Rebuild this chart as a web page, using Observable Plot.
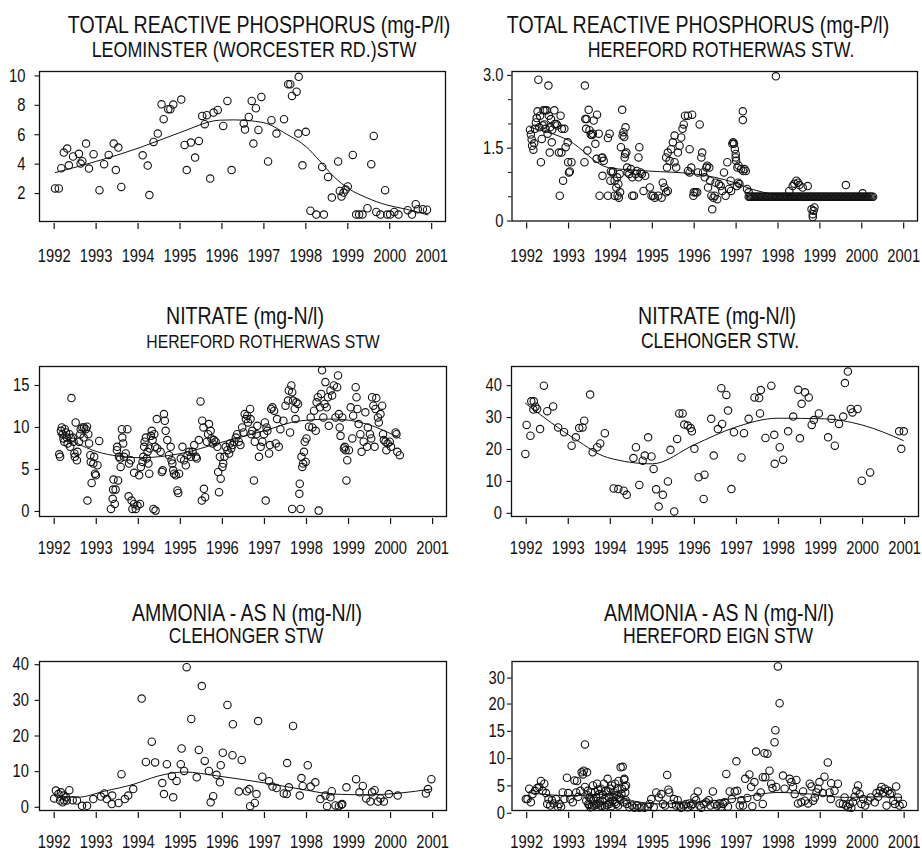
<!DOCTYPE html>
<html><head><meta charset="utf-8">
<script src="https://cdn.jsdelivr.net/npm/d3@7"></script>
<script src="https://cdn.jsdelivr.net/npm/@observablehq/plot@0.6"></script>
<style>
html,body{margin:0;padding:0;background:#fff;}
#chart{position:relative;width:922px;height:852px;overflow:hidden;background:#fff;
  font-family:"Liberation Sans",Arial,sans-serif;color:#111;}
.t{position:absolute;transform:translate(-50%,-50%) scaleX(0.82);white-space:nowrap;line-height:1;}
.p{position:absolute;}
</style></head><body><div id="chart"></div>
<script>
// ---------- tick labels ----------
const yearTicks = [1992,1993,1994,1995,1996,1997,1998,1999,2000,2001];

// ---------- Panel 1: Total reactive phosphorus, Leominster (Worcester Rd.) STW ----------
const leominsterTRP = [[1992.02,2.35],[1992.11,2.35],[1992.17,3.72],[1992.23,4.79],[1992.31,5.06],[1992.35,3.92],[1992.45,4.52],[1992.59,4.70],[1992.63,4.04],[1992.67,4.20],[1992.76,5.40],[1992.83,3.70],[1992.94,4.68],[1993.08,2.23],[1993.19,4.00],[1993.30,4.63],[1993.42,5.40],[1993.47,3.60],[1993.53,5.13],[1993.60,2.45],[1994.11,4.60],[1994.23,3.90],[1994.27,1.90],[1994.37,5.51],[1994.47,6.08],[1994.56,8.07],[1994.61,7.06],[1994.72,7.74],[1994.77,7.74],[1994.84,8.05],[1995.03,8.39],[1995.11,5.31],[1995.16,3.60],[1995.26,5.47],[1995.36,4.45],[1995.45,5.58],[1995.53,7.28],[1995.59,6.72],[1995.64,7.33],[1995.72,3.02],[1995.80,7.51],[1995.90,7.69],[1996.03,6.60],[1996.13,8.30],[1996.23,3.60],[1996.52,6.76],[1996.55,6.35],[1996.64,7.21],[1996.71,8.30],[1996.75,5.40],[1996.81,7.80],[1996.87,6.33],[1996.94,8.57],[1997.10,4.18],[1997.18,6.99],[1997.30,6.08],[1997.48,7.06],[1997.58,9.44],[1997.63,9.44],[1997.67,8.64],[1997.78,8.93],[1997.83,9.94],[1997.82,6.08],[1997.92,3.92],[1998.00,6.20],[1998.11,0.83],[1998.25,0.57],[1998.43,0.57],[1998.39,3.81],[1998.53,3.13],[1998.62,1.73],[1998.77,4.18],[1998.81,2.18],[1998.85,1.80],[1998.90,2.07],[1998.95,2.27],[1999.00,2.48],[1999.12,4.63],[1999.20,0.57],[1999.27,0.57],[1999.35,0.57],[1999.47,1.00],[1999.56,4.00],[1999.62,5.92],[1999.68,0.75],[1999.78,0.57],[1999.89,2.23],[1999.94,0.57],[2000.01,0.57],[2000.11,0.75],[2000.21,0.57],[2000.43,0.87],[2000.53,0.57],[2000.62,1.28],[2000.67,0.94],[2000.79,0.94],[2000.89,0.90]];
const leominsterTRPTrend = [[1992.03,3.43],[1993.10,4.27],[1994.05,5.13],[1995.00,6.15],[1995.95,6.99],[1996.27,7.01],[1996.98,6.83],[1997.54,6.04],[1998.01,5.18],[1998.33,4.22],[1998.65,3.20],[1999.04,2.30],[1999.44,1.73],[1999.92,1.23],[2000.39,0.94],[2000.91,0.55]];

// ---------- Panel 2: Total reactive phosphorus, Hereford Rotherwas STW ----------
const rotherwasTRP = [[1992.08,1.88],[1992.10,1.78],[1992.12,1.68],[1992.13,1.55],[1992.16,1.47],[1992.18,1.60],[1992.20,1.90],[1992.22,2.03],[1992.24,2.12],[1992.26,2.26],[1992.28,2.91],[1992.30,1.93],[1992.32,2.17],[1992.34,1.21],[1992.36,1.69],[1992.38,1.97],[1992.40,2.28],[1992.42,1.99],[1992.44,2.28],[1992.45,1.90],[1992.48,2.28],[1992.50,1.80],[1992.52,2.79],[1992.53,2.17],[1992.55,1.41],[1992.56,1.93],[1992.58,2.10],[1992.60,1.62],[1992.61,1.88],[1992.66,2.28],[1992.67,2.00],[1992.71,2.00],[1992.73,1.97],[1992.77,1.41],[1992.79,0.52],[1992.81,2.17],[1992.83,1.41],[1992.84,1.90],[1992.87,0.83],[1992.90,1.90],[1992.93,1.52],[1992.98,1.62],[1992.99,1.21],[1993.01,1.00],[1993.03,1.02],[1993.07,1.21],
[1993.38,1.21],[1993.39,2.79],[1993.40,2.10],[1993.42,1.90],[1993.43,2.10],[1993.45,1.45],[1993.48,2.29],[1993.50,1.87],[1993.53,1.78],[1993.56,1.77],[1993.58,1.80],[1993.60,2.07],[1993.64,1.59],[1993.67,1.28],[1993.68,2.19],[1993.72,1.80],[1993.74,0.52],[1993.79,1.30],[1993.81,1.31],[1993.81,0.93],[1993.84,1.24],[1993.94,1.71],[1993.94,0.52],[1993.98,1.80],[1994.00,0.83],[1994.01,1.02],[1994.05,1.00],
[1994.06,1.02],[1994.10,0.83],[1994.10,0.52],[1994.14,0.69],[1994.16,0.90],[1994.17,0.52],[1994.19,0.76],[1994.20,0.48],[1994.22,0.97],[1994.23,0.59],[1994.25,1.52],[1994.28,2.29],[1994.29,1.76],[1994.31,1.83],[1994.33,1.73],[1994.34,1.31],[1994.35,1.38],[1994.36,1.93],[1994.38,1.41],[1994.40,1.10],[1994.41,1.00],[1994.45,0.97],[1994.49,1.07],[1994.52,0.90],[1994.52,0.52],[1994.56,0.52],[1994.60,0.97],[1994.63,1.03],[1994.67,1.31],[1994.69,1.52],[1994.67,0.90],[1994.72,1.00],[1994.75,0.97],[1994.79,0.62],[1994.83,0.93],
[1994.94,0.69],[1994.98,0.52],[1995.02,0.52],[1995.06,0.48],[1995.14,0.52],[1995.22,0.48],[1995.25,0.79],[1995.29,0.69],[1995.33,0.59],[1995.37,0.62],[1995.35,1.10],[1995.33,1.31],[1995.37,1.41],[1995.41,1.24],[1995.45,1.48],[1995.49,1.62],[1995.53,1.76],[1995.53,1.21],[1995.57,1.10],[1995.61,1.41],[1995.65,1.55],[1995.69,1.72],[1995.72,1.90],[1995.75,1.99],[1995.78,2.17],[1995.85,1.03],[1995.85,2.17],[1995.89,1.48],[1995.89,1.00],[1995.93,1.10],[1995.95,2.19],[1995.98,0.52],[1995.99,0.59],[1996.03,0.59],[1996.07,0.59],[1996.09,1.00],
[1996.13,1.99],[1996.17,1.31],[1996.19,1.41],[1996.21,1.00],[1996.25,0.90],[1996.29,1.10],[1996.31,1.14],[1996.33,0.69],[1996.36,1.10],[1996.38,0.83],[1996.41,0.52],[1996.43,0.24],[1996.46,0.48],[1996.49,0.52],[1996.51,0.79],[1996.55,0.45],[1996.59,0.76],[1996.63,0.72],[1996.67,0.62],[1996.71,1.00],[1996.75,0.52],[1996.79,1.21],[1996.83,0.66],[1996.87,0.83],[1996.88,0.62],[1996.91,1.59],[1996.93,1.62],[1996.95,1.59],[1996.97,1.48],[1996.99,1.31],[1996.99,1.38],[1997.00,1.24],[1997.02,0.72],[1997.03,1.10],[1997.05,0.79],[1997.06,1.14],[1997.08,0.76],[1997.12,1.07],[1997.16,2.08],[1997.16,2.26],[1997.17,1.03],[1997.20,1.07],[1997.23,1.03],[1997.26,0.66],[1997.30,0.59],
[1997.95,2.98],[1998.27,0.62],[1998.35,0.72],[1998.39,0.77],[1998.44,0.83],[1998.48,0.79],[1998.51,0.74],[1998.59,0.69],[1998.71,0.72],[1998.80,0.24],[1998.83,0.14],[1998.85,0.21],[1998.83,0.08],[1998.87,0.28],[1999.62,0.74],[2000.02,0.57]];
// samples reported at the 0.5 mg-P/l floor (the dense row from 1997 on)
const rotherwasTRPFloor = 0.5;
const rotherwasTRPFloorDates = [1997.30,1997.33,1997.36,1997.39,1997.42,1997.45,1997.48,1997.51,1997.54,1997.57,1997.60,1997.63,1997.66,1997.69,1997.72,1997.75,1997.78,1997.81,1997.84,1997.87,1997.90,1997.93,1997.96,1997.99,1998.02,1998.05,1998.08,1998.11,1998.14,1998.17,1998.20,1998.23,1998.26,1998.29,1998.32,1998.35,1998.38,1998.41,1998.44,1998.47,1998.50,1998.53,1998.56,1998.59,1998.62,1998.65,1998.68,1998.71,1998.74,1998.77,1998.80,1998.83,1998.86,1998.89,1998.92,1998.95,1998.98,1999.01,1999.04,1999.07,1999.10,1999.13,1999.16,1999.19,1999.22,1999.25,1999.28,1999.31,1999.34,1999.37,1999.40,1999.43,1999.46,1999.49,1999.52,1999.55,1999.58,1999.61,1999.64,1999.67,1999.70,1999.73,1999.76,1999.79,1999.82,1999.85,1999.88,1999.91,1999.94,1999.97,2000.00,2000.03,2000.06,2000.09,2000.12,2000.15,2000.18,2000.21,2000.24,2000.27];
const rotherwasTRPTrend = [[1992.08,1.93],[1993.00,1.66],[1993.95,1.10],[1994.90,1.03],[1996.00,0.97],[1996.96,0.79],[1997.36,0.66],[1997.91,0.55],[1998.39,0.52],[2000.23,0.52]];

// ---------- Panel 3: Nitrate, Hereford Rotherwas STW ----------
const rotherwasNitrate = [[1992.12,6.8],[1992.14,6.5],[1992.16,9.6],[1992.18,10.0],[1992.20,9.2],[1992.22,8.7],[1992.24,8.3],[1992.25,9.8],[1992.28,9.4],[1992.30,8.8],[1992.32,8.1],[1992.36,9.2],[1992.38,7.7],[1992.40,8.7],[1992.41,13.5],[1992.44,8.8],[1992.46,8.3],[1992.48,6.9],[1992.49,6.5],[1992.51,10.6],[1992.54,6.1],[1992.55,7.1],[1992.59,8.3],[1992.62,9.2],[1992.63,9.8],[1992.67,10.0],[1992.70,8.8],[1992.71,10.0],[1992.75,9.8],[1992.78,10.1],[1992.79,1.3],[1992.81,9.2],[1992.83,8.1],[1992.86,6.7],[1992.87,5.9],[1992.89,3.4],[1992.93,5.7],[1992.95,6.5],[1992.97,4.5],[1992.99,4.3],[1993.03,5.5],[1993.07,8.4],
[1993.35,0.3],[1993.39,1.5],[1993.40,2.6],[1993.41,3.8],[1993.44,0.9],[1993.46,2.6],[1993.49,7.3],[1993.50,7.7],[1993.52,3.7],[1993.54,6.5],[1993.57,6.3],[1993.58,5.3],[1993.61,9.8],[1993.62,8.8],[1993.64,8.1],[1993.66,6.5],[1993.70,6.9],[1993.74,9.8],[1993.77,1.8],[1993.78,5.7],[1993.82,6.1],[1993.84,1.3],[1993.86,0.3],[1993.90,0.9],[1993.90,4.6],[1993.94,0.3],[1993.98,0.7],[1994.02,4.3],[1994.04,0.9],
[1994.06,5.3],[1994.10,5.9],[1994.12,6.5],[1994.14,7.7],[1994.15,8.3],[1994.18,8.8],[1994.20,6.3],[1994.22,7.1],[1994.24,5.7],[1994.26,4.5],[1994.27,7.5],[1994.30,9.0],[1994.32,9.6],[1994.34,8.5],[1994.36,0.3],[1994.38,9.2],[1994.40,7.7],[1994.41,0.1],[1994.44,11.0],[1994.45,7.5],[1994.53,7.1],[1994.56,4.7],[1994.58,4.9],[1994.61,11.6],[1994.63,10.8],[1994.65,9.6],[1994.69,8.5],[1994.73,6.7],[1994.77,7.7],[1994.79,6.1],[1994.81,5.7],[1994.83,4.9],[1994.85,4.5],
[1994.89,4.3],[1994.93,2.5],[1994.95,2.2],[1994.97,4.5],[1995.01,6.3],[1995.05,7.7],[1995.09,6.1],[1995.13,5.5],[1995.17,6.7],[1995.21,7.1],[1995.25,6.5],[1995.29,7.1],[1995.33,7.9],[1995.37,6.5],[1995.39,6.3],[1995.44,8.5],[1995.48,13.1],[1995.51,1.3],[1995.52,10.8],[1995.55,10.0],[1995.56,2.7],[1995.59,1.7],[1995.63,8.3],[1995.66,9.2],[1995.68,10.4],[1995.72,9.6],[1995.74,8.7],[1995.77,8.1],[1995.80,8.5],[1995.84,8.3],[1995.88,7.7],
[1995.90,4.7],[1995.92,2.3],[1995.94,6.5],[1995.96,3.9],[1996.00,5.3],[1996.02,5.7],[1996.05,6.5],[1996.08,7.7],[1996.12,7.3],[1996.16,6.9],[1996.18,8.1],[1996.21,7.5],[1996.24,7.9],[1996.28,8.3],[1996.32,8.8],[1996.35,9.2],[1996.39,8.3],[1996.43,7.9],[1996.47,10.0],[1996.50,9.4],[1996.53,11.6],[1996.56,11.0],[1996.59,11.4],[1996.61,10.6],[1996.66,12.2],[1996.67,11.0],[1996.69,9.2],[1996.71,9.6],[1996.75,3.7],[1996.77,8.3],[1996.81,9.2],[1996.83,10.2],[1996.87,6.5],[1996.91,7.7],[1996.95,8.3],
[1996.99,9.2],[1997.01,10.6],[1997.03,1.3],[1997.05,10.0],[1997.07,9.6],[1997.11,6.9],[1997.13,7.9],[1997.16,12.2],[1997.19,12.4],[1997.23,12.0],[1997.27,8.1],[1997.30,11.0],[1997.34,7.7],[1997.38,9.8],[1997.45,10.8],[1997.50,12.6],[1997.56,13.2],[1997.58,14.4],[1997.61,9.4],[1997.64,15.0],[1997.66,14.2],[1997.66,0.3],[1997.68,13.2],[1997.72,12.2],[1997.74,11.0],[1997.76,13.0],[1997.80,12.8],[1997.83,2.1],[1997.84,3.3],[1997.86,0.3],[1997.88,6.5],[1997.90,5.3],[1997.92,5.7],[1997.94,7.1],[1997.96,8.3],[1997.98,5.9],[1998.00,8.7],
[1998.06,10.1],[1998.10,11.2],[1998.14,10.0],[1998.18,12.0],[1998.22,9.6],[1998.24,13.0],[1998.27,13.6],[1998.29,0.1],[1998.32,12.4],[1998.35,14.0],[1998.37,16.8],[1998.40,11.2],[1998.43,12.8],[1998.45,15.4],[1998.48,12.4],[1998.51,13.6],[1998.53,10.2],[1998.57,14.4],[1998.61,13.8],[1998.65,15.0],[1998.69,11.2],[1998.73,14.8],[1998.75,16.2],[1998.77,11.6],[1998.79,10.0],[1998.81,9.0],[1998.85,11.2],
[1998.89,7.5],[1998.91,7.7],[1998.93,7.3],[1998.95,3.7],[1998.97,6.1],[1999.01,7.3],[1999.05,12.4],[1999.09,8.7],[1999.11,11.4],[1999.17,14.8],[1999.19,13.6],[1999.21,12.2],[1999.24,10.4],[1999.28,9.2],[1999.31,7.1],[1999.36,8.3],[1999.40,11.8],[1999.44,7.7],[1999.46,10.0],[1999.51,9.2],[1999.54,8.7],[1999.56,13.6],[1999.59,12.6],[1999.62,7.7],[1999.64,12.2],[1999.66,13.5],[1999.70,11.2],[1999.72,10.6],[1999.76,11.6],[1999.80,12.6],[1999.82,9.2],
[1999.84,8.5],[1999.88,8.3],[1999.90,7.3],[1999.93,8.1],[1999.98,8.3],[2000.01,7.7],[2000.12,9.4],[2000.14,9.2],[2000.16,7.1],[2000.22,6.7]];
const rotherwasNitrateTrend = [[1992.08,9.2],[1992.50,8.2],[1993.03,7.1],[1993.50,6.6],[1994.06,6.4],[1995.01,6.9],[1995.96,8.2],[1996.99,9.6],[1997.86,10.8],[1998.65,11.0],[1999.44,10.4],[2000.23,8.7]];

// ---------- Panel 4: Nitrate, Clehonger STW ----------
const clehongerNitrate = [[1991.98,18.6],[1992.01,27.7],[1992.10,24.3],[1992.12,35.1],[1992.17,32.5],[1992.18,35.1],[1992.22,33.4],[1992.26,32.7],[1992.33,26.4],[1992.42,40.0],[1992.50,32.0],[1992.64,33.5],[1992.76,26.9],[1992.90,25.4],[1993.08,21.2],[1993.18,23.8],[1993.26,26.7],[1993.34,26.9],[1993.38,29.0],[1993.52,37.2],[1993.58,19.1],[1993.69,20.7],[1993.76,21.9],[1993.87,25.1],[1994.08,7.8],[1994.19,7.6],[1994.32,7.1],[1994.39,5.8],[1994.55,17.3],[1994.61,20.7],[1994.69,8.9],[1994.77,16.5],[1994.82,18.1],[1994.90,23.8],[1994.98,17.8],[1995.03,13.9],[1995.09,7.5],[1995.15,2.1],[1995.25,5.8],[1995.37,10.0],[1995.43,19.9],[1995.52,0.6],[1995.59,23.3],[1995.64,31.3],[1995.72,31.3],[1995.76,27.8],[1995.84,27.5],[1995.91,26.7],[1995.94,25.7],[1996.00,20.2],[1996.10,11.3],[1996.22,4.5],[1996.24,12.1],[1996.40,29.6],[1996.46,18.1],[1996.56,26.4],[1996.64,39.2],[1996.66,28.0],[1996.76,37.1],[1996.80,32.2],[1996.88,7.6],[1996.94,25.4],[1997.12,17.5],[1997.18,25.1],[1997.29,29.6],[1997.43,36.3],[1997.54,36.1],[1997.56,31.3],[1997.58,38.6],[1997.69,23.6],[1997.83,40.0],[1997.90,24.6],[1997.91,15.5],[1998.03,20.7],[1998.11,16.8],[1998.23,25.7],[1998.35,30.3],[1998.47,38.7],[1998.51,23.5],[1998.55,34.3],[1998.63,37.9],[1998.72,36.3],[1998.79,27.7],[1998.84,29.2],[1998.96,31.3],[1999.18,23.8],[1999.26,29.6],[1999.34,21.2],[1999.44,28.0],[1999.54,30.3],[1999.58,40.8],[1999.65,44.4],[1999.72,32.7],[1999.76,31.6],[1999.88,32.7],[1999.98,10.2],[2000.18,12.8],[2000.87,25.7],[2000.92,20.2],[2000.98,25.7]];
const clehongerNitrateTrend = [[1991.98,34.5],[1993.18,23.1],[1993.93,17.5],[1995.00,15.5],[1996.00,21.5],[1996.96,26.9],[1997.99,29.8],[1999.10,29.6],[1999.98,27.7],[2000.97,22.8]];

// ---------- Panel 5: Ammonia as N, Clehonger STW ----------
const clehongerAmmonia = [[1992.00,2.5],[1992.04,4.7],[1992.10,3.7],[1992.14,1.9],[1992.16,4.2],[1992.20,1.4],[1992.22,3.3],[1992.24,1.9],[1992.28,2.8],[1992.30,1.9],[1992.36,4.8],[1992.44,2.0],[1992.54,1.9],[1992.66,0.4],[1992.78,0.4],[1992.93,2.3],[1993.11,3.0],[1993.19,3.9],[1993.25,2.3],[1993.37,0.9],[1993.38,3.3],[1993.53,1.2],[1993.60,9.3],[1993.68,2.3],[1993.76,3.3],[1993.88,5.1],[1994.08,30.5],[1994.18,12.7],[1994.32,18.4],[1994.40,12.6],[1994.57,6.8],[1994.61,3.7],[1994.68,12.1],[1994.80,8.8],[1994.83,2.8],[1994.91,7.4],[1995.01,12.1],[1995.03,16.5],[1995.09,10.2],[1995.15,39.3],[1995.26,24.8],[1995.39,8.4],[1995.44,16.1],[1995.51,34.0],[1995.58,13.0],[1995.68,10.2],[1995.72,1.4],[1995.78,3.1],[1995.86,9.1],[1995.94,7.0],[1995.96,11.8],[1996.01,15.3],[1996.12,28.7],[1996.24,14.6],[1996.25,23.3],[1996.39,4.4],[1996.46,13.3],[1996.58,4.5],[1996.64,5.1],[1996.66,0.3],[1996.77,1.2],[1996.81,3.7],[1996.85,24.2],[1996.95,8.6],[1997.11,7.3],[1997.19,5.8],[1997.29,5.4],[1997.46,3.9],[1997.53,3.7],[1997.54,12.4],[1997.58,5.6],[1997.68,22.8],[1997.84,3.3],[1997.88,8.2],[1997.91,6.0],[1998.03,11.8],[1998.10,5.8],[1998.21,7.0],[1998.33,2.3],[1998.45,3.3],[1998.49,0.3],[1998.57,2.8],[1998.60,4.5],[1998.69,0.5],[1998.77,0.3],[1998.83,0.7],[1998.85,0.9],[1998.95,5.6],[1999.18,7.9],[1999.26,4.2],[1999.34,6.0],[1999.42,2.5],[1999.52,1.6],[1999.56,4.2],[1999.62,4.8],[1999.70,1.6],[1999.76,2.5],[1999.84,1.6],[1999.96,3.7],[2000.17,3.3],[2000.84,3.9],[2000.89,5.1],[2000.97,7.9]];
const clehongerAmmoniaTrend = [[1992.00,3.3],[1992.55,2.8],[1993.19,4.5],[1993.90,6.5],[1994.45,8.7],[1995.09,9.9],[1995.88,8.8],[1997.07,6.7],[1997.86,5.1],[1998.65,3.7],[1999.44,3.5],[2000.23,4.0],[2000.95,5.1]];

// ---------- Panel 6: Ammonia as N, Hereford Eign STW ----------
const eignAmmonia = [[1991.98,2.6],[1992.02,2.6],[1992.06,4.5],[1992.10,2.0],[1992.14,3.5],[1992.20,4.1],[1992.25,4.6],[1992.30,4.8],[1992.34,5.9],[1992.38,4.1],[1992.42,5.4],[1992.46,3.7],[1992.49,1.7],[1992.52,2.6],[1992.56,1.4],[1992.60,2.4],[1992.64,1.8],[1992.70,2.6],[1992.74,1.2],[1992.78,1.7],[1992.82,1.2],[1992.86,3.8],[1992.90,2.6],[1992.96,6.5],[1992.99,3.7],[1993.04,2.6],[1993.10,2.0],[1993.14,6.0],[1993.18,3.8],[1993.20,5.9],[1993.23,3.0],[1993.28,4.1],[1993.31,7.5],[1993.34,7.1],[1993.36,7.8],[1993.39,12.6],[1993.39,4.8],[1993.42,2.3],[1993.44,7.5],[1993.46,4.1],[1993.47,1.7],[1993.50,2.9],[1993.52,1.1],[1993.54,3.8],[1993.58,5.1],[1993.60,2.3],[1993.61,1.4],[1993.65,2.9],[1993.68,5.4],[1993.71,1.8],[1993.73,3.5],[1993.76,1.4],[1993.77,4.5],[1993.81,2.3],[1993.84,5.4],[1993.87,1.2],[1993.89,4.1],[1993.93,6.3],[1993.96,2.9],[1993.97,1.7],[1994.00,4.5],[1994.03,5.1],[1994.05,2.3],[1994.08,3.8],[1994.11,5.4],[1994.13,1.7],[1994.16,4.5],[1994.19,5.9],[1994.21,2.9],[1994.24,8.4],[1994.27,4.5],[1994.29,8.5],[1994.32,6.1],[1994.33,6.3],[1994.35,3.8],[1994.37,5.1],[1994.39,1.7],
[1993.45,3.3],[1993.49,1.5],[1993.53,2.6],[1993.56,1.2],[1993.63,3.9],[1993.66,1.6],[1993.70,4.3],[1993.74,2.2],[1993.79,1.3],[1993.82,3.4],[1993.86,2.6],[1993.91,1.5],[1993.95,4.0],[1993.99,2.1],[1994.02,1.3],[1994.07,3.0],[1994.10,2.0],[1994.15,3.3],[1994.18,1.4],[1994.23,2.5],[1994.26,3.5],[1994.31,2.0],[1994.34,4.8],[1994.36,2.4],
[1994.45,1.1],[1994.51,1.4],[1994.57,1.0],[1994.63,1.4],[1994.69,1.0],[1994.74,1.2],[1994.81,1.0],[1994.89,1.2],[1994.93,1.7],[1994.97,2.6],[1995.03,1.1],
[1995.09,3.8],[1995.15,2.9],[1995.21,3.5],[1995.25,1.7],[1995.30,1.4],[1995.35,7.0],[1995.38,4.3],[1995.40,3.8],[1995.46,1.7],[1995.51,2.6],[1995.56,1.4],[1995.60,2.4],[1995.64,1.4],[1995.68,1.0],[1995.75,1.4],[1995.80,1.7],[1995.84,1.1],[1995.88,1.8],[1995.92,1.4],[1995.96,1.7],[1996.00,2.9],[1996.04,2.4],[1996.08,4.0],[1996.12,1.4],[1996.16,1.0],[1996.22,1.7],[1996.28,2.0],[1996.34,2.4],[1996.38,1.4],[1996.44,4.0],[1996.48,1.7],[1996.54,1.4],[1996.60,1.8],[1996.64,1.2],[1996.68,1.7],[1996.72,2.0],[1996.76,7.2],[1996.80,1.2],[1996.84,4.0],[1996.89,2.6],
[1996.96,4.0],[1997.00,9.5],[1997.02,4.1],[1997.08,1.4],[1997.12,2.4],[1997.16,1.4],[1997.21,6.3],[1997.26,2.8],[1997.31,7.1],[1997.35,4.8],[1997.38,1.3],[1997.43,5.7],[1997.47,11.3],[1997.50,3.0],[1997.58,3.8],[1997.63,1.7],[1997.63,6.6],[1997.67,11.0],[1997.69,6.6],[1997.74,10.9],[1997.79,7.8],[1997.83,5.4],[1997.86,4.6],[1997.91,13.0],[1997.93,15.2],[1997.95,4.8],[1997.99,34.5],[1998.03,20.3],[1998.11,6.9],[1998.15,4.5],[1998.27,6.3],[1998.31,5.7],[1998.35,4.8],[1998.39,3.5],[1998.43,6.1],[1998.47,1.8],[1998.55,2.0],[1998.59,4.0],[1998.63,2.3],[1998.71,1.8],[1998.75,5.4],[1998.79,4.9],[1998.83,2.3],[1998.87,2.9],[1998.91,3.8],[1998.95,4.5],[1998.98,5.7],
[1999.06,3.7],[1999.10,6.7],[1999.18,9.3],[1999.22,3.8],[1999.25,2.6],[1999.26,5.5],[1999.34,4.1],[1999.42,5.4],[1999.46,1.8],[1999.54,1.7],[1999.58,2.9],[1999.62,1.4],[1999.66,1.1],[1999.70,1.7],[1999.74,1.0],[1999.78,2.0],[1999.82,3.0],[1999.86,4.1],[1999.90,5.1],[1999.94,3.5],[1999.98,1.7],[2000.02,2.6],[2000.07,1.4],[2000.14,2.3],[2000.20,2.9],[2000.30,2.0],[2000.34,3.7],[2000.38,3.0],[2000.42,4.1],[2000.46,4.8],[2000.50,3.8],[2000.54,4.5],[2000.58,1.4],[2000.62,4.1],[2000.66,3.5],[2000.70,3.7],[2000.74,2.3],[2000.78,1.7],[2000.81,4.9],[2000.85,2.9],[2000.89,1.4],[2000.97,1.7]];
const eignAmmoniaTrend = [[1992.02,3.8],[1992.50,3.4],[1992.99,3.2],[1994.00,3.5],[1994.57,2.2],[1995.20,1.7],[1996.00,2.0],[1996.96,2.7],[1997.99,3.8],[1998.79,3.5],[1999.58,2.9],[2000.38,3.0],[2000.93,2.9]];

// ---------- titles ----------
const titles = [
  ["TOTAL REACTIVE PHOSPHORUS (mg-P/l)", "LEOMINSTER (WORCESTER RD.)STW"],
  ["TOTAL REACTIVE PHOSPHORUS (mg-P/l)", "HEREFORD ROTHERWAS STW."],
  ["NITRATE (mg-N/l)", "HEREFORD ROTHERWAS STW"],
  ["NITRATE (mg-N/l)", "CLEHONGER STW."],
  ["AMMONIA - AS N (mg-N/l)", "CLEHONGER STW"],
  ["AMMONIA - AS N (mg-N/l)", "HEREFORD EIGN STW"]
];

// the Eign ammonia axis is compressed above 20 mg-N/l
const BREAK = 20, ABOVE = 0.475;
const compress = v => v <= BREAK ? v : BREAK + (v - BREAK) * ABOVE;

// ---------- layout (frames in page pixels) ----------
const FONT = '"Liberation Sans",Arial,sans-serif';
const SQUEEZE = 0.82;
const panels = [
  {col:0,   frame:{l:39,  r:445, t:71,  b:221}, title:titles[0], tc:[[259,25],[254,50]], t2:21.8,
   points:leominsterTRP, trend:leominsterTRPTrend, y:{domain:[0.1,10.3]}, yTicks:[2,4,6,8,10], yPad:9.5, xOff:34},
  {col:461, frame:{l:511.5,r:917, t:71,  b:220.5}, title:titles[1], tc:[[697.5,25],[721,50]], t2:21.6,
   points:rotherwasTRP.concat(rotherwasTRPFloorDates.map(d => [d, rotherwasTRPFloor])), trend:rotherwasTRPTrend,
   y:{domain:[0,3.08]}, yTicks:[0,1.5,3.0], yMinor:[0.5,1,2,2.5], yFmt:d => d === 0 ? "0" : d.toFixed(1), yPad:4, xOff:35},
  {col:0,   frame:{l:39,  r:446, t:366, b:516}, title:titles[2], tc:[[245,316],[263,342]], t2:19.2,
   points:rotherwasNitrate, trend:rotherwasNitrateTrend, y:{domain:[-0.6,17.26]}, yTicks:[0,5,10,15], yPad:5.5, xOff:31},
  {col:461, frame:{l:511, r:918, t:366, b:516}, title:titles[3], tc:[[717,316],[719.7,342]], t2:21.3,
   points:clehongerNitrate, trend:clehongerNitrateTrend, y:{domain:[-1.0,46]}, yTicks:[0,10,20,30,40], yPad:5, xOff:31},
  {col:0,   frame:{l:39,  r:446, t:661, b:810}, title:titles[4], tc:[[246.7,613],[245.8,637]], t2:21.3,
   points:clehongerAmmonia, trend:clehongerAmmoniaTrend, y:{domain:[-0.9,40.9]}, yTicks:[0,10,20,30,40], yPad:6, xOff:31.5},
  {col:461, frame:{l:511.5,r:917.5,t:661, b:810}, title:titles[5], tc:[[719,613],[718,637]], t2:21.4,
   points:eignAmmonia, trend:eignAmmoniaTrend, y:{domain:[0.5, compress(36.4)], transform: compress}, yTicks:[0,5,10,15,20,30], yPad:2.5, xOff:31.5}
];

const chart = document.getElementById("chart");
const X_DOMAIN = [1991.65, 2001.33];
const TICK = 4.5, XTICK = 6, XGAP = 2, AXFS = 18;

for (const p of panels) {
  p.title.forEach((txt, i) => {
    const d = document.createElement("div");
    d.className = "t";
    d.textContent = txt;
    d.style.left = p.tc[i][0] + "px";
    d.style.top = p.tc[i][1] + "px";
    d.style.fontSize = (i === 0 ? 23.8 : p.t2) + "px";
    chart.appendChild(d);
  });

  const top = p.frame.t - 11;
  const mt = p.frame.t - top;
  const ml = p.frame.l - p.col;
  const mr = (p.col + 461) - p.frame.r;
  const mb = 42;
  const h = (p.frame.b - top) + mb;

  const pts = p.points.map(([t, v]) => ({t, v}));
  const trend = p.trend.map(([t, v]) => ({t, v}));
  const xPad = p.xOff - 0.352 * AXFS - XGAP - XTICK;

  const svg = Plot.plot({
    width: 461, height: h,
    marginTop: mt, marginLeft: ml, marginRight: mr, marginBottom: mb,
    style: {fontFamily: FONT, fontSize: AXFS + "px", color: "#111", background: "transparent", overflow: "visible"},
    x: {domain: X_DOMAIN},
    y: p.y,
    marks: [
      Plot.frame({stroke: "#111", strokeWidth: 1.3}),
      Plot.axisX(yearTicks, {anchor: "bottom", tickSize: XTICK, tickPadding: xPad, dy: XGAP, tickFormat: d => String(d), label: null, strokeWidth: 1.2}),
      Plot.axisY(p.yTicks, {anchor: "left", tickSize: TICK, tickPadding: p.yPad, tickFormat: p.yFmt || (d => String(d)), label: null, strokeWidth: 1.1}),
      p.yMinor ? Plot.axisY(p.yMinor, {anchor: "left", tickSize: 3.5, fill: "none", label: null, strokeWidth: 1}) : null,
      Plot.line(trend, {x: "t", y: "v", stroke: "#111", strokeWidth: 1, curve: "monotone-x"}),
      Plot.dot(pts, {x: "t", y: "v", r: 3.7, stroke: "#111", strokeWidth: 1.1, fill: "none"})
    ]
  });
  // condense the axis labels horizontally, keeping each label's anchor point fixed
  svg.querySelectorAll('g[aria-label$="tick label"] text').forEach(t => {
    const tr = t.getAttribute("transform") || "";
    t.setAttribute("transform", (tr + ` scale(${SQUEEZE},1)`).trim());
  });
  const wrap = document.createElement("div");
  wrap.className = "p";
  wrap.style.left = p.col + "px";
  wrap.style.top = top + "px";
  wrap.appendChild(svg);
  chart.appendChild(wrap);
}
</script></body></html>
